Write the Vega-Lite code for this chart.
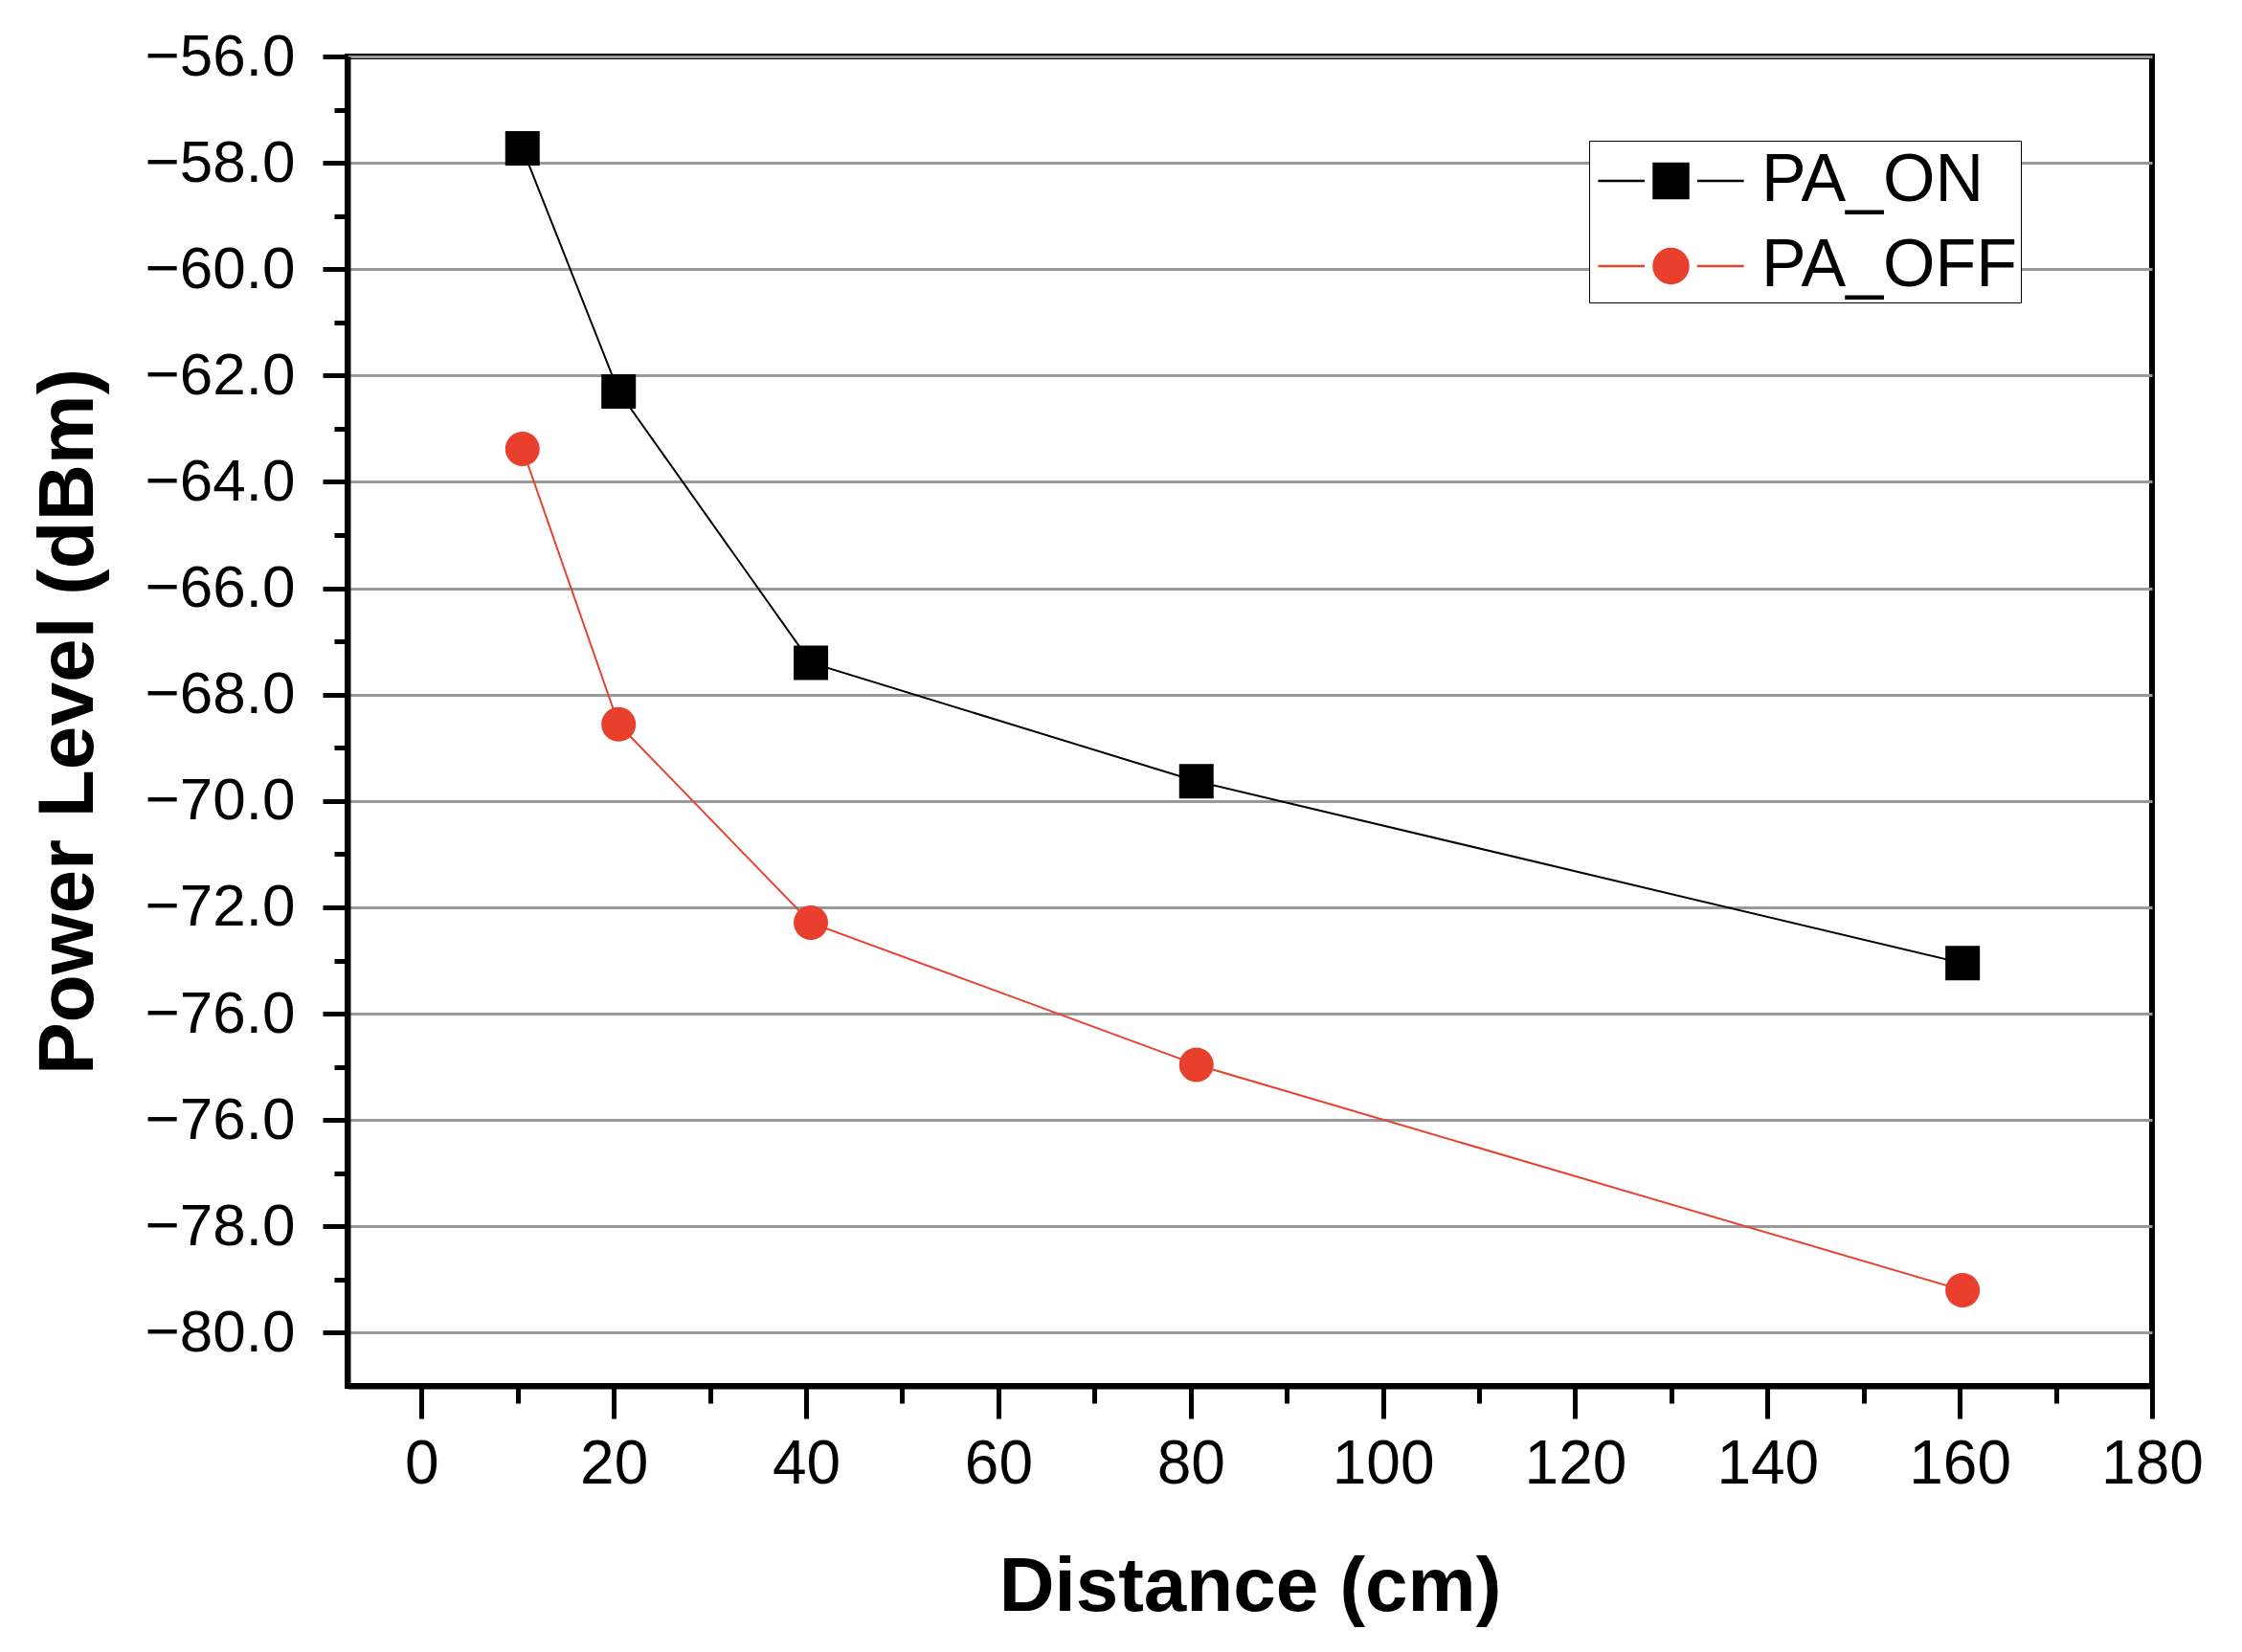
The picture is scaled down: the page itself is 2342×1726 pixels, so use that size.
{
  "$schema": "https://vega.github.io/schema/vega-lite/v6.json",
  "autosize": {"type": "none"},
  "padding": {"left": 363, "top": 59, "right": 94, "bottom": 278},
  "width": 1885,
  "height": 1389,
  "background": "white",
  "data": {
    "values": [
      {"series": "PA_ON", "distance": 10.5, "power": -57.73},
      {"series": "PA_ON", "distance": 20.5, "power": -62.3},
      {"series": "PA_ON", "distance": 40.5, "power": -67.4},
      {"series": "PA_ON", "distance": 80.6, "power": -69.63},
      {"series": "PA_ON", "distance": 160.3, "power": -73.05},
      {"series": "PA_OFF", "distance": 10.5, "power": -63.38},
      {"series": "PA_OFF", "distance": 20.5, "power": -68.56},
      {"series": "PA_OFF", "distance": 40.5, "power": -72.29},
      {"series": "PA_OFF", "distance": 80.6, "power": -74.96},
      {"series": "PA_OFF", "distance": 160.3, "power": -79.2}
    ]
  },
  "encoding": {
    "x": {
      "field": "distance",
      "type": "quantitative",
      "title": "Distance (cm)",
      "scale": {"domain": [-7.7, 180], "nice": false, "zero": false},
      "axis": {
        "values": [0, 10, 20, 30, 40, 50, 60, 70, 80, 90, 100, 110, 120, 130, 140, 150, 160, 170, 180],
        "labelExpr": "datum.value % 20 == 0 ? datum.label : ''",
        "labelFlush": false,
        "labelOverlap": false,
        "grid": false,
        "tickSize": {"condition": {"test": "datum.value % 20 == 0", "value": 34}, "value": 18},
        "labelPadding": 16,
        "labelFontSize": 64,
        "titlePadding": 57
      }
    },
    "y": {
      "field": "power",
      "type": "quantitative",
      "title": "Power Level (dBm)",
      "scale": {"domain": [-81, -56], "nice": false, "zero": false},
      "axis": {
        "values": [-80, -79, -78, -77, -76, -75, -74, -73, -72, -71, -70, -69, -68, -67, -66, -65, -64, -63, -62, -61, -60, -59, -58, -57, -56],
        "labelExpr": "datum.value % 2 != 0 ? '' : (datum.value == -74 ? '−76.0' : format(datum.value, '.1f'))",
        "labelFlush": false,
        "labelOverlap": false,
        "grid": true,
        "gridOpacity": {"condition": {"test": "datum.value % 2 == 0", "value": 1}, "value": 0},
        "tickSize": {"condition": {"test": "datum.value % 2 == 0", "value": 26}, "value": 14},
        "labelPadding": 29,
        "labelFontSize": 62,
        "titleFontSize": 82,
        "titlePadding": 50
      }
    },
    "color": {
      "field": "series",
      "type": "nominal",
      "scale": {"domain": ["PA_ON", "PA_OFF"], "range": ["#000000", "#E9402E"]},
      "legend": {
        "title": null,
        "orient": "none",
        "legendX": 1297,
        "legendY": 88,
        "padding": 3,
        "strokeColor": "black",
        "fillColor": "white",
        "cornerRadius": 0,
        "symbolSize": 5625,
        "symbolOffset": 43.5,
        "symbolStrokeWidth": 2.5,
        "labelOffset": 55.5,
        "rowPadding": 15,
        "labelFont": "Liberation Sans",
        "labelFontSize": 70,
        "labelColor": "black",
        "labelLimit": 0
      }
    }
  },
  "layer": [
    {
      "mark": {"type": "line", "strokeWidth": 2}
    },
    {
      "mark": {"type": "point", "filled": true, "opacity": 1, "size": 5625},
      "encoding": {
        "shape": {
          "field": "series",
          "type": "nominal",
          "scale": {
            "domain": ["PA_ON", "PA_OFF"],
            "range": [
              "M-2.03,0H-0.73M0.73,0H2.03M-0.48,-0.48H0.48V0.48H-0.48Z",
              "M-2.03,0H-0.73M0.73,0H2.03M-0.48,0A0.48,0.48,0,1,0,0.48,0A0.48,0.48,0,1,0,-0.48,0Z"
            ]
          },
          "legend": null
        }
      }
    }
  ],
  "config": {
    "font": "Liberation Sans",
    "view": {"stroke": "black", "strokeWidth": 6},
    "axis": {
      "domainColor": "black",
      "domainWidth": 6,
      "tickColor": "black",
      "tickWidth": 5,
      "gridColor": "#999999",
      "gridWidth": 3,
      "labelColor": "black",
      "labelFont": "Liberation Sans",
      "titleFont": "Liberation Sans",
      "titleFontSize": 80,
      "titleFontWeight": "bold",
      "titleColor": "black"
    }
  }
}
